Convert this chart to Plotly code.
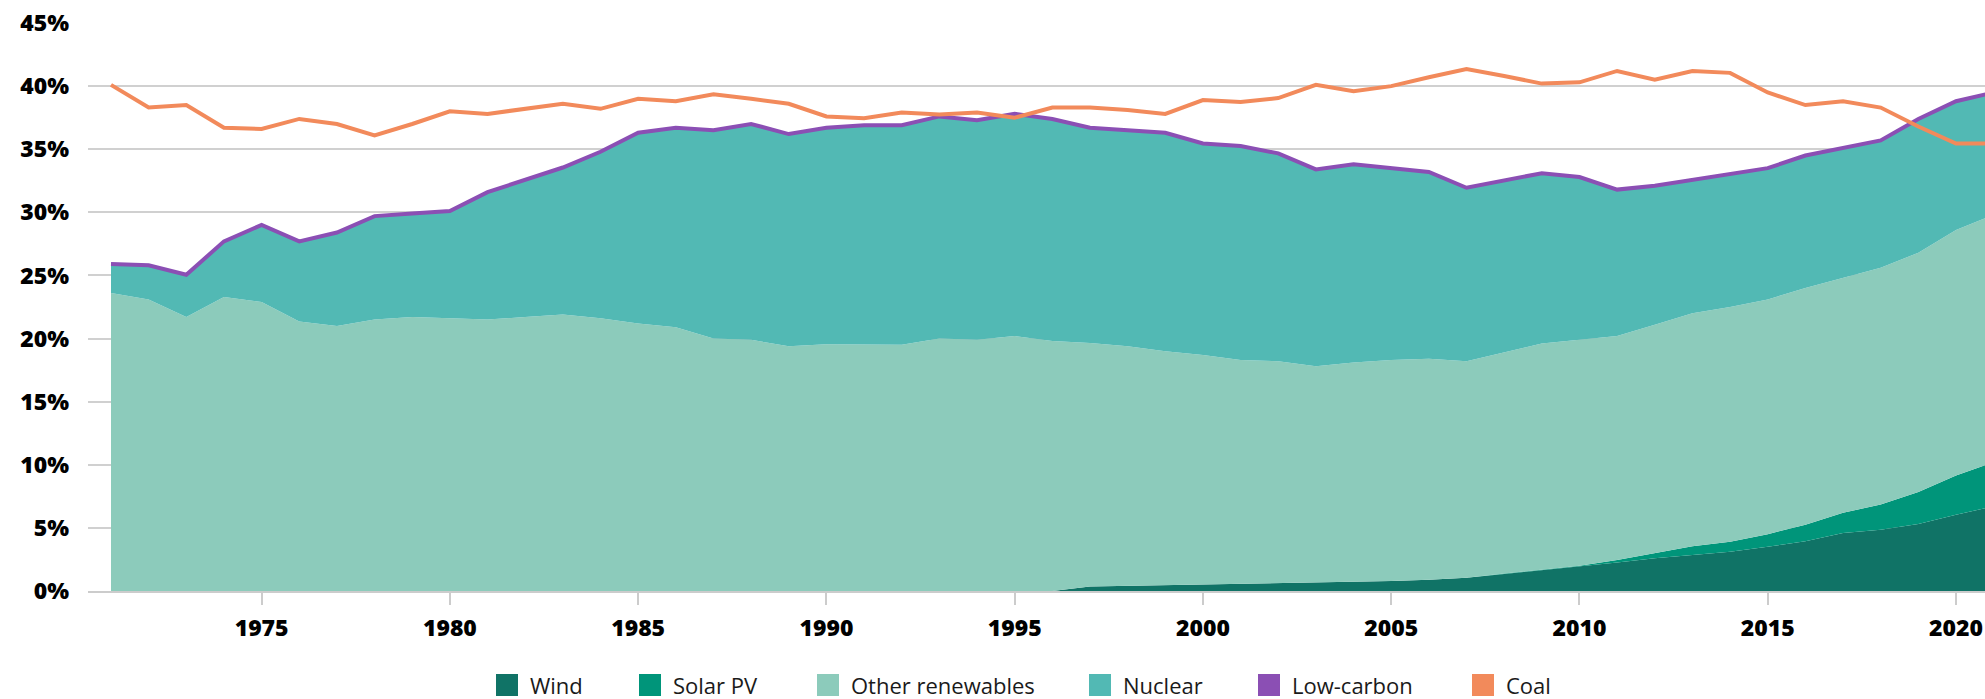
import plotly.graph_objects as go

# ---------------- data (% of electricity generation) ----------------
years = list(range(1971, 2022))

wind = [0, 0, 0, 0, 0, 0, 0, 0, 0, 0,
        0, 0, 0, 0, 0, 0, 0, 0, 0, 0,
        0, 0, 0, 0, 0, 0, 0.35, 0.4, 0.45, 0.5,
        0.55, 0.6, 0.65, 0.72, 0.8, 0.9, 1.05, 1.35, 1.65, 1.9,
        2.25, 2.6, 2.85, 3.1, 3.5, 3.95, 4.6, 4.85, 5.3, 6.05,
        6.7]

solar_pv = [0, 0, 0, 0, 0, 0, 0, 0, 0, 0,
            0, 0, 0, 0, 0, 0, 0, 0, 0, 0,
            0, 0, 0, 0, 0, 0, 0, 0, 0, 0,
            0, 0, 0, 0, 0, 0, 0, 0.03, 0.06, 0.1,
            0.2, 0.4, 0.7, 0.8, 1.0, 1.3, 1.6, 2.0, 2.55, 3.1,
            3.5]

other_renewables = [23.6, 23.1, 21.7, 23.3, 22.9, 21.35, 21.0, 21.5, 21.7, 21.6,
                    21.5, 21.7, 21.9, 21.6, 21.2, 20.9, 20.0, 19.9, 19.4, 19.55,
                    19.5, 19.5, 20.0, 19.9, 20.2, 19.8, 19.3, 19.0, 18.55, 18.2,
                    17.75, 17.6, 17.15, 17.38, 17.5, 17.5, 17.15, 17.52, 17.89, 17.9,
                    17.75, 18.1, 18.45, 18.6, 18.6, 18.75, 18.6, 18.75, 18.95, 19.45,
                    19.6]

nuclear = [2.3, 2.7, 3.35, 4.4, 6.1, 6.35, 7.4, 8.2, 8.2, 8.5,
           10.1, 10.9, 11.65, 13.2, 15.1, 15.8, 16.5, 17.1, 16.8, 17.15,
           17.4, 17.4, 17.6, 17.4, 17.6, 17.6, 17.05, 17.1, 17.3, 16.76,
           16.95, 16.47, 15.6, 15.7, 15.2, 14.8, 13.75, 13.6, 13.5, 12.9,
           11.6, 11.0, 10.55, 10.5, 10.4, 10.5, 10.27, 10.1, 10.6, 10.2,
           9.7]

low_carbon = [25.9, 25.8, 25.05, 27.7, 29.0, 27.7, 28.4, 29.7, 29.9, 30.1,
              31.6, 32.6, 33.55, 34.8, 36.3, 36.7, 36.5, 37.0, 36.2, 36.7,
              36.9, 36.9, 37.6, 37.3, 37.8, 37.4, 36.7, 36.5, 36.3, 35.46,
              35.25, 34.67, 33.4, 33.8, 33.5, 33.2, 31.95, 32.5, 33.1, 32.8,
              31.8, 32.1, 32.55, 33.0, 33.5, 34.5, 35.07, 35.7, 37.4, 38.8,
              39.5]

coal = [40.1, 38.3, 38.5, 36.7, 36.6, 37.4, 37.0, 36.1, 37.0, 38.0,
        37.8, 38.2, 38.6, 38.2, 39.0, 38.8, 39.35, 39.0, 38.6, 37.6,
        37.45, 37.9, 37.75, 37.9, 37.5, 38.3, 38.3, 38.1, 37.8, 38.9,
        38.75, 39.05, 40.1, 39.6, 40.0, 40.7, 41.35, 40.8, 40.2, 40.3,
        41.2, 40.5, 41.2, 41.05, 39.5, 38.5, 38.8, 38.3, 36.8, 35.45,
        35.45]

y_ticks = [0, 5, 10, 15, 20, 25, 30, 35, 40, 45]
y_tick_labels = ["0%", "5%", "10%", "15%", "20%", "25%", "30%", "35%", "40%", "45%"]
x_ticks = [1975, 1980, 1985, 1990, 1995, 2000, 2005, 2010, 2015, 2020]
x_tick_labels = ["1975", "1980", "1985", "1990", "1995", "2000", "2005", "2010", "2015", "2020"]

# ---------------- styles ----------------
COL = {
    "Wind": "#107366",
    "Solar PV": "#00957a",
    "Other renewables": "#8ccbbb",
    "Nuclear": "#52b9b4",
    "Low-carbon": "#8b4fb4",
    "Coal": "#f28a5b",
}
TICK_FONT = dict(family="Open Sans, Roboto, sans-serif", size=23, color="#000000", weight=800)
LEG_FONT = dict(family="Open Sans, Roboto, sans-serif", size=22, color="#1a1a1a")

W, H = 1985, 699
ML, MR, MT, MB = 88, 0, 23, 108

fig = go.Figure()

for name, vals in [("Wind", wind), ("Solar PV", solar_pv),
                   ("Other renewables", other_renewables), ("Nuclear", nuclear)]:
    fig.add_trace(go.Scatter(
        x=years, y=vals, name=name, mode="lines", stackgroup="gen",
        line=dict(width=0, color=COL[name]), fillcolor=COL[name],
        showlegend=False, hoverinfo="skip"))

fig.add_trace(go.Scatter(x=years, y=low_carbon, name="Low-carbon", mode="lines",
                         line=dict(width=4, color=COL["Low-carbon"]),
                         showlegend=False, hoverinfo="skip"))
fig.add_trace(go.Scatter(x=years, y=coal, name="Coal", mode="lines",
                         line=dict(width=4, color=COL["Coal"]),
                         showlegend=False, hoverinfo="skip"))

# ---------------- custom legend (squares) ----------------
plot_w = W - ML - MR
plot_h = H - MT - MB


def px_x(px):
    return (px - ML) / plot_w


def px_y(py):
    return (H - MB - py) / plot_h


legend_items = [("Wind", 496), ("Solar PV", 639), ("Other renewables", 817),
                ("Nuclear", 1089), ("Low-carbon", 1258), ("Coal", 1472)]
shapes = []
annotations = []
for name, sx in legend_items:
    shapes.append(dict(type="rect", xref="paper", yref="paper",
                       x0=px_x(sx), x1=px_x(sx + 22), y0=px_y(696), y1=px_y(674),
                       fillcolor=COL[name], line=dict(width=0)))
    annotations.append(dict(xref="paper", yref="paper", x=px_x(sx + 32), y=px_y(685),
                            xanchor="left", yanchor="middle", text=name,
                            showarrow=False, font=LEG_FONT))

# x mapping: 1971 -> px 111, 2020 -> px 1956
per_year = (1956 - 111) / 49.0
x_lo = 1971 - (111 - ML) / per_year
x_hi = 2020 + (W - MR - 1956) / per_year

fig.update_layout(
    width=W, height=H,
    margin=dict(l=ML, r=MR, t=MT, b=MB, pad=0),
    paper_bgcolor="white", plot_bgcolor="white",
    showlegend=False,
    shapes=shapes, annotations=annotations,
    xaxis=dict(range=[x_lo, x_hi], tickmode="array", tickvals=x_ticks, ticktext=x_tick_labels,
               showgrid=False,
               showline=True, linecolor="#cccccc", linewidth=2,
               ticks="outside", ticklen=12, tickwidth=1.5, tickcolor="#cccccc",
               tickfont=TICK_FONT, ticklabelstandoff=3, zeroline=False),
    yaxis=dict(range=[0, 45], tickmode="array", tickvals=y_ticks, ticktext=y_tick_labels,
               showgrid=True, gridcolor="#d0d0d0", gridwidth=1.5,
               zeroline=False, ticks="", tickfont=TICK_FONT,
               ticklabelstandoff=18, showline=False),
)

fig.write_html("out.html", config={"displayModeBar": False},
               post_script="document.body.style.margin='0';document.body.style.overflow='hidden';")
